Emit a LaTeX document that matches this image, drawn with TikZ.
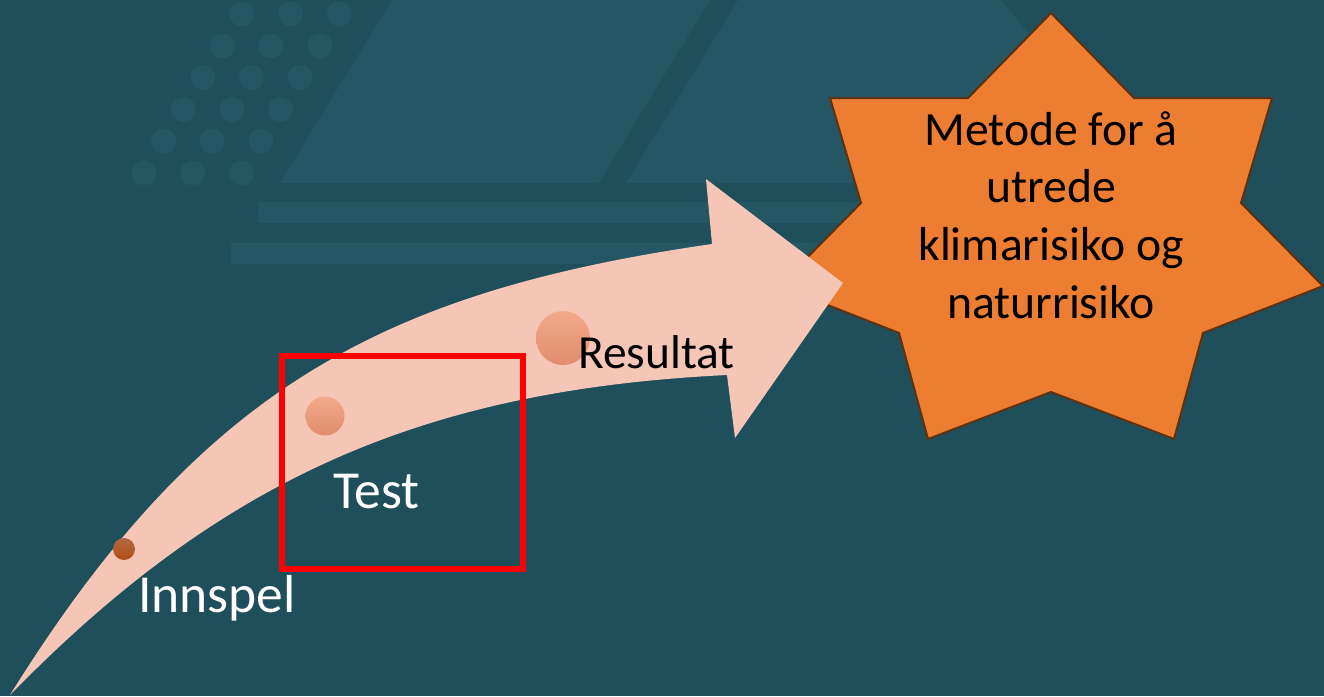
\documentclass[tikz,border=0pt]{standalone}
\usepackage{fontspec}
\setmainfont{Carlito}
\usepackage{tikz}
\usetikzlibrary{positioning}
\definecolor{slidebg}{RGB}{31,79,91}
\definecolor{slidedeco}{RGB}{37,86,99}
\definecolor{arrowpink}{RGB}{245,198,182}
\definecolor{starorange}{RGB}{237,125,49}
\definecolor{starbrown}{RGB}{94,50,16}
\definecolor{dotlight}{RGB}{241,170,138}
\definecolor{dotmid}{RGB}{226,140,110}
\definecolor{dotdark}{RGB}{176,80,20}
\definecolor{dotrust}{RGB}{180,104,66}

\begin{document}
\begin{tikzpicture}[x=1pt,y=-1pt,
  deco/.style={fill=slidedeco},
  dot node/.style={circle,inner sep=0pt,draw=none},
  step label/.style={inner sep=0pt,anchor=base west,font=\fontsize{53.5}{64}\selectfont},
  star text/.style={inner sep=0pt,align=center,font=\fontsize{47.7}{57.7}\selectfont}]

  \useasboundingbox (0,0) rectangle (1324,696);
  \fill[slidebg] (0,0) rectangle (1324,696);

  % faint pattern behind
  \foreach \row in {0,...,5}
    \foreach \col in {0,1,2}
      \fill[deco] (242-19.6*\row+48.7*\col,14+31.8*\row) circle (12.5);
  \fill[deco] (392,0) -- (1001,0) -- (1153,183) -- (280,183) -- cycle;
  \fill[slidebg] (710,0) -- (738,0) -- (626,183) -- (599,183) -- cycle;
  \fill[deco] (258,202) rectangle (900,223);
  \fill[deco] (231,243) rectangle (900,264);

  % goal
  \filldraw[fill=starorange,draw=starbrown,line width=2] (1051,13) -- (1134,98) -- (1272,98)
    -- (1241,203) -- (1323,286) -- (1203,333) -- (1174,439) -- (1051,392) -- (928,439)
    -- (899,333) -- (779,286) -- (861,203) -- (830,98) -- (968,98) -- cycle;
  \node[star text] (metode) at (1051,215) {Metode for å\\utrede\\klimarisiko og\\naturrisiko};

  % curved arrow
  \fill[arrowpink] (10,695) .. controls (200,390) and (380,292) .. (712,244)
    -- (706,179) -- (843,283) -- (735,438) -- (727,375)
    .. controls (420,390) and (220,480) .. (10,695) -- cycle;

  \node[dot node,minimum size=22,top color=dotrust,bottom color=dotdark] (innspeldot) at (124,549) {};
  \node[dot node,minimum size=39,top color=dotlight,bottom color=dotmid] (testdot) at (325,416) {};
  \node[dot node,minimum size=54,top color=dotlight,bottom color=dotmid] (resultatdot) at (563,338) {};

  \node[step label,text=white] (innspel) at (138,612) {Innspel};
  \node[step label,text=white] (test) at (333,508) {Test};
  \node[step label,font=\fontsize{47.5}{57}\selectfont] (resultat) at (578,368) {Resultat};

  \draw[red,line width=6] (282,355.5) rectangle (523,569);

\end{tikzpicture}
\end{document}
